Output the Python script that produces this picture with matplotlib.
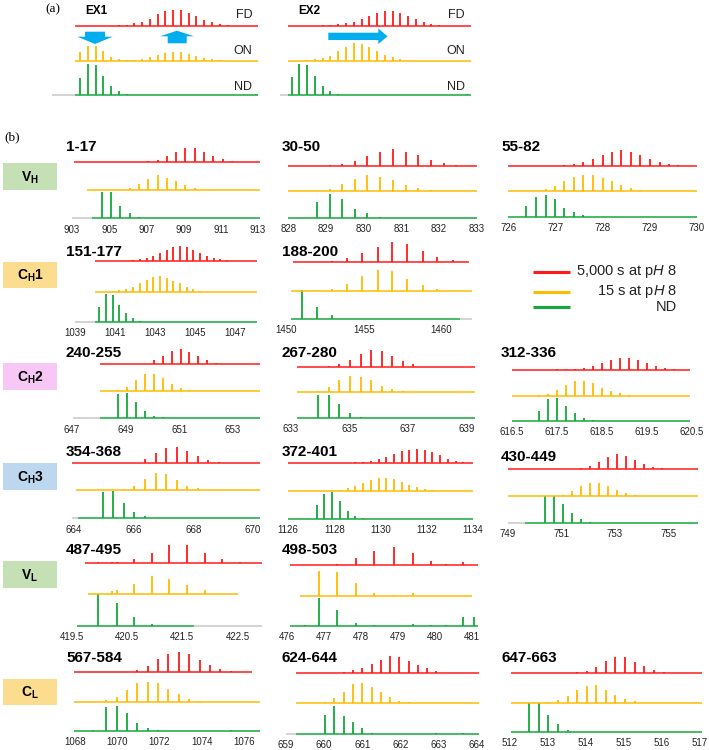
import matplotlib
matplotlib.use("Agg")
import matplotlib.pyplot as plt
from matplotlib.patches import Rectangle, Polygon

plt.rcParams['font.family'] = ['Liberation Sans', 'DejaVu Sans']
plt.rcParams['mathtext.fontset'] = 'custom'
plt.rcParams['mathtext.rm'] = 'Liberation Sans'
plt.rcParams['mathtext.it'] = 'Liberation Sans:italic'
plt.rcParams['mathtext.bf'] = 'Liberation Sans:bold'

RED = '#ff1a1a'
YEL = '#ffbb00'
GRN = '#15a83c'
GRAY = '#c8c8c8'
BLUE = '#00aeef'

# ---------------- panel (a): schematic spectra (isotope index) ----------------
EX1_POS = [0, 1, 2, 3, 4, 5, 6, 7, 8, 9, 10, 11, 12, 13, 14, 15, 16, 17, 18, 19, 22.7]
EX1_RED = [0, 0, 0, 0, 0, 0.02, 0.03, 0.07, 0.11, 0.21, 0.33, 0.43, 0.46, 0.46, 0.38, 0.29, 0.17, 0.1, 0.05, 0.02, 0]
EX1_YEL = [0.24, 0.43, 0.43, 0.27, 0.1, 0.04, 0.03, 0.03, 0.05, 0.1, 0.16, 0.21, 0.24, 0.24, 0.19, 0.14, 0.08, 0.04, 0.02, 0, 0]
EX1_GRN = [0.48, 0.9, 0.88, 0.54, 0.27, 0.11, 0.04, 0, 0, 0, 0, 0, 0, 0, 0, 0, 0, 0, 0, 0, 0.03]
EX1_RANGE = (-0.64, 22.96)
EX1_GRAY = (-3.65, -0.64)

EX2_POS = [0, 1, 2, 3, 4, 5, 6, 7, 8, 9, 10, 11, 12, 13, 14, 15, 16, 17, 18, 19, 22.6]
EX2_RED = [0, 0, 0, 0, 0.01, 0.02, 0.04, 0.07, 0.11, 0.19, 0.29, 0.36, 0.44, 0.44, 0.38, 0.29, 0.19, 0.11, 0.06, 0.02, 0]
EX2_YEL = [0, 0, 0.02, 0.04, 0.08, 0.14, 0.29, 0.4, 0.5, 0.48, 0.4, 0.29, 0.17, 0.1, 0.04, 0, 0, 0, 0, 0, 0]
EX2_GRN = [0.52, 0.9, 0.88, 0.54, 0.27, 0.11, 0.03, 0, 0, 0, 0, 0, 0, 0, 0, 0, 0, 0, 0, 0, 0.02]
EX2_RANGE = (-0.47, 23.1)
EX2_GRAY = (-1.55, -0.47)

# ---------------- panel (b): peptide spectra (m/z) ----------------
VH_A_MZ = [904.6, 905.1, 905.6, 906.1, 906.6, 907.1, 907.6, 908.1, 908.6, 909.1, 909.6, 910.1, 910.6, 911.1, 911.6, 912.1, 912.6]
VH_A_RED = [0, 0, 0, 0, 0, 0.04, 0.1, 0.21, 0.36, 0.5, 0.5, 0.38, 0.24, 0.12, 0.04, 0, 0]
VH_A_YEL = [0, 0, 0.02, 0.08, 0.24, 0.39, 0.54, 0.45, 0.33, 0.18, 0.07, 0.02, 0, 0, 0, 0, 0]
VH_A_GRN = [0.95, 0.95, 0.45, 0.18, 0.04, 0, 0, 0, 0, 0, 0, 0, 0, 0, 0, 0, 0.02]
VH_A_XLIM = (903.11, 913.11)
VH_A_TICKS = [903, 905, 907, 909, 911, 913]
VH_A_SPANS = [(903.1, 913.1), (903.8, 913.1), (904.05, 913.1)]
VH_A_GRAY = (903.0, 904.05)

VH_B_MZ = [828.77, 829.11, 829.43, 829.77, 830.1, 830.44, 830.78, 831.12, 831.44, 831.78, 832.12, 832.45]
VH_B_RED = [0, 0.03, 0.06, 0.18, 0.38, 0.54, 0.64, 0.54, 0.41, 0.22, 0.1, 0.04]
VH_B_YEL = [0.01, 0.1, 0.28, 0.49, 0.64, 0.55, 0.42, 0.23, 0.13, 0.05, 0, 0]
VH_B_GRN = [0.62, 0.92, 0.71, 0.32, 0.19, 0.04, 0, 0, 0, 0, 0, 0]
VH_B_XLIM = (827.94, 833.03)
VH_B_TICKS = [828, 829, 830, 831, 832, 833]
VH_B_SPANS = [(828.0, 833.0), (828.0, 833.0), (828.0, 833.0)]
VH_B_GRAY = None

VH_C_MZ = [726.38, 726.58, 726.79, 726.99, 727.19, 727.39, 727.59, 727.79, 728.0, 728.2, 728.4, 728.6, 728.8, 729.01, 729.21, 729.41, 729.61]
VH_C_RED = [0, 0, 0, 0, 0.03, 0.07, 0.16, 0.29, 0.42, 0.55, 0.62, 0.55, 0.43, 0.29, 0.17, 0.09, 0.04]
VH_C_YEL = [0, 0, 0.07, 0.2, 0.39, 0.55, 0.62, 0.62, 0.53, 0.39, 0.24, 0.11, 0.05, 0.01, 0, 0, 0]
VH_C_GRN = [0.43, 0.79, 0.86, 0.68, 0.36, 0.17, 0.07, 0, 0, 0, 0, 0, 0, 0, 0, 0, 0]
VH_C_XLIM = (725.99, 730.07)
VH_C_TICKS = [726, 727, 728, 729, 730]
VH_C_SPANS = [(726.0, 730.0), (726.0, 730.0), (726.0, 730.0)]
VH_C_GRAY = None

CH1_A_MZ = [1040.2, 1040.55, 1040.89, 1041.22, 1041.55, 1041.89, 1042.25, 1042.59, 1042.92, 1043.25, 1043.59, 1043.92, 1044.25, 1044.59, 1044.92, 1045.26, 1045.6, 1045.94, 1046.27, 1046.61]
CH1_A_RED = [0, 0, 0, 0, 0, 0.02, 0.04, 0.09, 0.14, 0.25, 0.36, 0.46, 0.49, 0.46, 0.36, 0.25, 0.14, 0.09, 0.04, 0.02]
CH1_A_YEL = [0, 0, 0.02, 0.04, 0.09, 0.16, 0.27, 0.38, 0.49, 0.51, 0.46, 0.36, 0.27, 0.16, 0.09, 0.03, 0, 0, 0, 0]
CH1_A_GRN = [0.49, 0.92, 0.87, 0.54, 0.27, 0.13, 0.03, 0, 0, 0, 0, 0, 0, 0, 0, 0, 0, 0, 0, 0]
CH1_A_XLIM = (1038.85, 1048.25)
CH1_A_TICKS = [1039, 1041, 1043, 1045, 1047]
CH1_A_SPANS = [(1040.0, 1048.1), (1040.0, 1048.1), (1040.0, 1048.1)]
CH1_A_GRAY = (1039.0, 1040.0)

CH1_B_MZ = [1451.0, 1452.0, 1452.95, 1453.95, 1454.9, 1455.9, 1456.85, 1457.8, 1458.8, 1459.75, 1460.75]
CH1_B_RED = [0, 0, 0.04, 0.13, 0.3, 0.52, 0.69, 0.61, 0.36, 0.18, 0.06]
CH1_B_YEL = [0, 0, 0.06, 0.24, 0.5, 0.73, 0.7, 0.41, 0.2, 0.06, 0]
CH1_B_GRN = [1.02, 0.41, 0.14, 0, 0, 0, 0, 0, 0, 0, 0]
CH1_B_XLIM = (1450.06, 1462.37)
CH1_B_TICKS = [1450, 1455, 1460]
CH1_B_SPANS = [(1450.43, 1461.8), (1450.32, 1461.97), (1450.32, 1461.2)]
CH1_B_GRAY = (1461.2, 1461.97)

CH2_A_MZ = [648.73, 649.04, 649.39, 649.72, 650.06, 650.38, 650.72, 651.06, 651.38, 651.71, 652.05, 652.37, 652.71]
CH2_A_RED = [0, 0, 0, 0.02, 0.15, 0.31, 0.49, 0.56, 0.47, 0.31, 0.16, 0.06, 0.02]
CH2_A_YEL = [0.04, 0.15, 0.4, 0.63, 0.63, 0.5, 0.25, 0.1, 0.04, 0, 0, 0, 0]
CH2_A_GRN = [0.89, 0.93, 0.62, 0.27, 0.1, 0.04, 0, 0, 0, 0, 0, 0, 0]
CH2_A_XLIM = (647.0, 654.01)
CH2_A_TICKS = [647, 649, 651, 653]
CH2_A_SPANS = [(648.04, 654.0), (648.04, 654.0), (648.04, 654.0)]
CH2_A_GRAY = (647.05, 648.04)

CH2_B_MZ = [633.94, 634.31, 634.66, 635.02, 635.39, 635.74, 636.1, 636.47, 636.83, 637.19]
CH2_B_RED = [0, 0.01, 0.1, 0.25, 0.49, 0.64, 0.62, 0.43, 0.22, 0.09]
CH2_B_YEL = [0.05, 0.2, 0.45, 0.62, 0.6, 0.45, 0.25, 0.1, 0.04, 0]
CH2_B_GRN = [0.9, 0.9, 0.55, 0.2, 0.05, 0, 0, 0, 0, 0]
CH2_B_XLIM = (632.83, 639.4)
CH2_B_TICKS = [633, 635, 637, 639]
CH2_B_SPANS = [(633.2, 639.3), (633.2, 639.3), (633.2, 639.3)]
CH2_B_GRAY = None

CH2_C_MZ = [617.1, 617.29, 617.49, 617.69, 617.9, 618.1, 618.31, 618.5, 618.7, 618.9, 619.1, 619.3, 619.5, 619.7, 619.9, 620.1]
CH2_C_RED = [0, 0.01, 0.02, 0.04, 0.05, 0.07, 0.15, 0.27, 0.4, 0.47, 0.47, 0.4, 0.27, 0.17, 0.09, 0.04]
CH2_C_YEL = [0.02, 0.08, 0.25, 0.45, 0.6, 0.6, 0.5, 0.33, 0.2, 0.1, 0.04, 0, 0, 0, 0, 0]
CH2_C_GRN = [0.4, 0.85, 0.9, 0.6, 0.3, 0.12, 0.04, 0, 0, 0, 0, 0, 0, 0, 0, 0]
CH2_C_XLIM = (616.41, 620.68)
CH2_C_TICKS = [616.5, 617.5, 618.5, 619.5, 620.5]
CH2_C_SPANS = [(616.5, 620.46), (616.5, 620.46), (616.5, 620.46)]
CH2_C_GRAY = None

CH3_A_MZ = [664.96, 665.32, 665.68, 666.02, 666.38, 666.74, 667.09, 667.45, 667.8, 668.15, 668.51, 668.87]
CH3_A_RED = [0, 0, 0, 0.02, 0.15, 0.37, 0.55, 0.59, 0.46, 0.27, 0.12, 0.04]
CH3_A_YEL = [0, 0, 0.04, 0.16, 0.39, 0.61, 0.59, 0.37, 0.16, 0.06, 0.01, 0]
CH3_A_GRN = [0.94, 1.0, 0.57, 0.24, 0.1, 0.02, 0, 0, 0, 0, 0, 0]
CH3_A_XLIM = (663.93, 670.24)
CH3_A_TICKS = [664, 666, 668, 670]
CH3_A_SPANS = [(663.93, 670.24), (664.07, 670.24), (664.13, 670.24)]
CH3_A_GRAY = (663.93, 664.13)

CH3_B_MZ = [1127.24, 1127.57, 1127.92, 1128.25, 1128.58, 1128.92, 1129.26, 1129.59, 1129.92, 1130.25, 1130.59, 1130.92, 1131.26, 1131.59, 1131.92, 1132.25, 1132.59, 1132.92, 1133.26, 1133.59]
CH3_B_RED = [0, 0, 0, 0, 0, 0.02, 0.04, 0.08, 0.14, 0.22, 0.32, 0.42, 0.48, 0.5, 0.46, 0.38, 0.27, 0.16, 0.08, 0.03]
CH3_B_YEL = [0, 0, 0.02, 0.05, 0.1, 0.18, 0.28, 0.38, 0.45, 0.47, 0.42, 0.33, 0.22, 0.13, 0.06, 0.02, 0, 0, 0, 0]
CH3_B_GRN = [0.5, 0.9, 0.95, 0.65, 0.3, 0.12, 0.03, 0, 0, 0, 0, 0, 0, 0, 0, 0, 0, 0, 0, 0]
CH3_B_XLIM = (1125.91, 1134.23)
CH3_B_TICKS = [1126, 1128, 1130, 1132, 1134]
CH3_B_SPANS = [(1126.0, 1134.0), (1126.0, 1134.0), (1126.0, 1134.0)]
CH3_B_GRAY = None

CH3_C_MZ = [750.39, 750.71, 751.05, 751.39, 751.72, 752.07, 752.41, 752.75, 753.08, 753.42, 753.76, 754.09, 754.43, 754.77]
CH3_C_RED = [0, 0, 0, 0, 0.03, 0.1, 0.25, 0.45, 0.55, 0.5, 0.35, 0.2, 0.08, 0.03]
CH3_C_YEL = [0, 0, 0.05, 0.18, 0.38, 0.5, 0.5, 0.38, 0.22, 0.1, 0.03, 0, 0, 0]
CH3_C_GRN = [1.0, 1.0, 0.69, 0.35, 0.15, 0.04, 0, 0, 0, 0, 0, 0, 0, 0]
CH3_C_XLIM = (749.0, 756.19)
CH3_C_TICKS = [749, 751, 753, 755]
CH3_C_SPANS = [(749.0, 756.1), (749.0, 756.1), (749.63, 756.1)]
CH3_C_GRAY = (749.0, 749.63)

VL_A_MZ = [419.98, 420.22, 420.31, 420.63, 420.95, 421.26, 421.58, 421.91, 422.22, 422.54]
VL_A_RED = [0.03, 0.03, 0.03, 0.13, 0.32, 0.55, 0.55, 0.3, 0.11, 0.03]
VL_A_YEL = [0, 0.11, 0.13, 0.32, 0.58, 0.48, 0.27, 0.13, 0, 0]
VL_A_GRN = [1.02, 0, 0.72, 0.27, 0.05, 0, 0, 0, 0, 0]
VL_A_XLIM = (419.54, 422.91)
VL_A_TICKS = [419.5, 420.5, 421.5, 422.5]
VL_A_SPANS = [(419.73, 422.95), (419.79, 422.52), (419.59, 421.71)]
VL_A_GRAY = (421.71, 422.95)

VL_B_MZ = [476.49, 476.85, 477.36, 477.87, 478.35, 478.9, 479.39, 479.9, 480.3, 480.76, 481.05]
VL_B_RED = [0, 0.01, 0.04, 0.22, 0.46, 0.6, 0.38, 0.14, 0.03, 0.09, 0]
VL_B_YEL = [0, 0.82, 0.78, 0.43, 0.11, 0.02, 0.09, 0, 0, 0, 0]
VL_B_GRN = [0.02, 0.92, 0.52, 0.09, 0.03, 0, 0.05, 0.03, 0.03, 0.3, 0.3]
VL_B_XLIM = (475.97, 481.16)
VL_B_TICKS = [476, 477, 478, 479, 480, 481]
VL_B_SPANS = [(476.09, 481.17), (476.35, 480.99), (476.09, 481.17)]
VL_B_GRAY = None

CL_A_MZ = [1068.84, 1069.47, 1069.97, 1070.45, 1070.95, 1071.44, 1071.93, 1072.42, 1072.93, 1073.42, 1073.91, 1074.4, 1074.89, 1075.38]
CL_A_RED = [0, 0, 0, 0.02, 0.09, 0.23, 0.45, 0.63, 0.68, 0.63, 0.43, 0.25, 0.11, 0.03]
CL_A_YEL = [0, 0.06, 0.17, 0.4, 0.63, 0.68, 0.63, 0.43, 0.25, 0.09, 0.02, 0, 0, 0]
CL_A_GRN = [0.02, 0.8, 0.85, 0.59, 0.28, 0.09, 0.02, 0, 0, 0, 0, 0, 0, 0.02]
CL_A_XLIM = (1067.85, 1076.77)
CL_A_TICKS = [1068, 1070, 1072, 1074, 1076]
CL_A_SPANS = [(1067.95, 1076.4), (1067.95, 1076.77), (1067.95, 1076.77)]
CL_A_GRAY = None

CL_B_MZ = [660.02, 660.27, 660.51, 660.75, 661.0, 661.24, 661.48, 661.72, 661.97, 662.21, 662.45, 662.7, 662.93, 663.18, 663.64]
CL_B_RED = [0, 0.02, 0.05, 0.11, 0.19, 0.31, 0.44, 0.57, 0.55, 0.42, 0.27, 0.16, 0.07, 0.02, 0]
CL_B_YEL = [0.03, 0.16, 0.38, 0.64, 0.66, 0.55, 0.36, 0.2, 0.09, 0.03, 0, 0, 0, 0, 0]
CL_B_GRN = [0.64, 0.93, 0.6, 0.38, 0.19, 0.03, 0, 0, 0, 0, 0, 0, 0.02, 0, 0.03]
CL_B_XLIM = (659.15, 664.03)
CL_B_TICKS = [659, 660, 661, 662, 663, 664]
CL_B_SPANS = [(659.25, 664.06), (659.25, 664.06), (659.25, 664.06)]
CL_B_GRAY = (659.0, 659.25)

CL_C_MZ = [512.51, 512.76, 513.01, 513.26, 513.52, 513.77, 514.02, 514.27, 514.52, 514.77, 515.03, 515.28, 515.53, 515.79, 516.04]
CL_C_RED = [0, 0, 0, 0, 0, 0.03, 0.09, 0.23, 0.43, 0.55, 0.55, 0.4, 0.25, 0.11, 0.03]
CL_C_YEL = [0, 0, 0.02, 0.08, 0.23, 0.43, 0.57, 0.59, 0.45, 0.28, 0.11, 0.05, 0, 0, 0]
CL_C_GRN = [0.97, 1.0, 0.57, 0.25, 0.06, 0, 0, 0, 0, 0, 0, 0, 0, 0, 0]
CL_C_XLIM = (511.95, 517.0)
CL_C_TICKS = [512, 513, 514, 515, 516, 517]
CL_C_SPANS = [(512.02, 517.04), (512.02, 517.04), (512.02, 517.04)]
CL_C_GRAY = None

DOMAINS = ['V_H', 'C_H1', 'C_H2', 'C_H3', 'V_L', 'C_L']
DOMAIN_COLORS = ['#c5e0b4', '#fcdc8f', '#f7c8f5', '#bdd7ee', '#c5e0b4', '#fcdc8f']
LEGEND_LABELS = ['5,000 s at p$\\mathit{H}$ 8', '15 s at p$\\mathit{H}$ 8', 'ND']

W, H = 709, 750
fig = plt.figure(figsize=(W / 100, H / 100), dpi=100)

# overlay in pixel coordinates for labels, boxes, arrows
ov = fig.add_axes([0, 0, 1, 1], zorder=0)
ov.set_xlim(0, W)
ov.set_ylim(H, 0)
ov.axis('off')


def px_axes(left, right, top, bottom):
    ax = fig.add_axes([left / W, 1 - bottom / H, (right - left) / W, (bottom - top) / H], zorder=2)
    ax.patch.set_alpha(0)
    for s in ax.spines.values():
        s.set_visible(False)
    return ax


def draw_stack(ax, mz, traces, spans, gray, ys):
    """traces = (red, yellow, green) heights; ys = (red_y, yel_y, grn_y) in px"""
    red_y, yel_y, grn_y = ys
    ax.set_ylim(0, grn_y - red_y)
    sp = (grn_y - red_y) / 2
    bases = [grn_y - red_y, grn_y - yel_y, 0]
    if gray is not None:
        ax.hlines(0, gray[0], gray[1], color=GRAY, lw=1.1, clip_on=False)
    for k in (2, 1, 0):
        col = [RED, YEL, GRN][k]
        ax.hlines(bases[k], spans[k][0], spans[k][1], color=col, lw=1.1, clip_on=False)
        xs = [m for m, h in zip(mz, traces[k]) if h > 0]
        hs = [bases[k] + h * sp for h in traces[k] if h > 0]
        ax.vlines(xs, bases[k], hs, color=col, lw=1.3, clip_on=False)


# ---- panel (a)
ov.text(53, 9, '(a)', family='Liberation Serif', fontsize=9.5, ha='center', va='center')
for name, pos, red, yel, grn, rng, gr, xl in [
        ('EX1', EX1_POS, EX1_RED, EX1_YEL, EX1_GRN, EX1_RANGE, EX1_GRAY, (75, 258.3)),
        ('EX2', EX2_POS, EX2_RED, EX2_YEL, EX2_GRN, EX2_RANGE, EX2_GRAY, (288, 471))]:
    ax = px_axes(xl[0], xl[1], 25.8, 95)
    ax.set_xlim(rng)
    draw_stack(ax, pos, (red, yel, grn), [rng, rng, rng], gr, (25.8, 60.7, 95))
    ax.set_xticks([])
    ax.set_yticks([])
    ov.text(xl[0] + 10, 11, name, fontsize=8.5, fontweight='bold', ha='left', va='center')
    for lab, yy in zip(['FD', 'ON', 'ND'], [15, 51, 87]):
        ov.text(xl[1] - 6, yy, lab, fontsize=9, ha='right', va='center', color='#222222')

arrow_kw = dict(closed=True, fc=BLUE, ec='none', zorder=3)
ov.add_patch(Polygon([(85, 31.7), (105, 31.7), (105, 36.7), (112.7, 36.7), (95, 44),
                      (77.3, 36.7), (85, 36.7)], **arrow_kw))
ov.add_patch(Polygon([(177, 30.7), (194, 36.3), (186.7, 36.3), (186.7, 43.3), (167.7, 43.3),
                      (167.7, 36.3), (160, 36.3)], **arrow_kw))
ov.add_patch(Polygon([(328.3, 32.7), (378.3, 32.7), (378.3, 28.5), (387.5, 36.3), (378.3, 44),
                      (378.3, 40), (328.3, 40)], **arrow_kw))

# ---- panel (b)
ov.text(12, 137, '(b)', family='Liberation Serif', fontsize=9.5, ha='center', va='center')

COLS = [(72, 260), (286, 478), (508, 700)]
TITLE_X = [66, 282, 501]
PANELS = [
    ('1-17', 0, VH_A_MZ, (VH_A_RED, VH_A_YEL, VH_A_GRN), VH_A_XLIM, VH_A_TICKS, VH_A_SPANS, VH_A_GRAY, (162.3, 190.3, 218.3), 147),
    ('30-50', 1, VH_B_MZ, (VH_B_RED, VH_B_YEL, VH_B_GRN), VH_B_XLIM, VH_B_TICKS, VH_B_SPANS, VH_B_GRAY, (166, 191.3, 217.7), 147),
    ('55-82', 2, VH_C_MZ, (VH_C_RED, VH_C_YEL, VH_C_GRN), VH_C_XLIM, VH_C_TICKS, VH_C_SPANS, VH_C_GRAY, (166, 191, 216.7), 147),
    ('151-177', 0, CH1_A_MZ, (CH1_A_RED, CH1_A_YEL, CH1_A_GRN), CH1_A_XLIM, CH1_A_TICKS, CH1_A_SPANS, CH1_A_GRAY, (260.7, 291.7, 321.7), 252),
    ('188-200', 1, CH1_B_MZ, (CH1_B_RED, CH1_B_YEL, CH1_B_GRN), CH1_B_XLIM, CH1_B_TICKS, CH1_B_SPANS, CH1_B_GRAY, (261.7, 290.7, 319), 252),
    ('240-255', 0, CH2_A_MZ, (CH2_A_RED, CH2_A_YEL, CH2_A_GRN), CH2_A_XLIM, CH2_A_TICKS, CH2_A_SPANS, CH2_A_GRAY, (364.3, 391, 418.3), 353),
    ('267-280', 1, CH2_B_MZ, (CH2_B_RED, CH2_B_YEL, CH2_B_GRN), CH2_B_XLIM, CH2_B_TICKS, CH2_B_SPANS, CH2_B_GRAY, (366.7, 392, 418), 353),
    ('312-336', 2, CH2_C_MZ, (CH2_C_RED, CH2_C_YEL, CH2_C_GRN), CH2_C_XLIM, CH2_C_TICKS, CH2_C_SPANS, CH2_C_GRAY, (370, 396, 421), 353),
    ('354-368', 0, CH3_A_MZ, (CH3_A_RED, CH3_A_YEL, CH3_A_GRN), CH3_A_XLIM, CH3_A_TICKS, CH3_A_SPANS, CH3_A_GRAY, (463.3, 490, 518.3), 452),
    ('372-401', 1, CH3_B_MZ, (CH3_B_RED, CH3_B_YEL, CH3_B_GRN), CH3_B_XLIM, CH3_B_TICKS, CH3_B_SPANS, CH3_B_GRAY, (463, 491, 519), 452),
    ('430-449', 2, CH3_C_MZ, (CH3_C_RED, CH3_C_YEL, CH3_C_GRN), CH3_C_XLIM, CH3_C_TICKS, CH3_C_SPANS, CH3_C_GRAY, (469, 496, 522.7), 457),
    ('487-495', 0, VL_A_MZ, (VL_A_RED, VL_A_YEL, VL_A_GRN), VL_A_XLIM, VL_A_TICKS, VL_A_SPANS, VL_A_GRAY, (562.7, 594, 626), 550),
    ('498-503', 1, VL_B_MZ, (VL_B_RED, VL_B_YEL, VL_B_GRN), VL_B_XLIM, VL_B_TICKS, VL_B_SPANS, VL_B_GRAY, (565, 596, 626), 550),
    ('567-584', 0, CL_A_MZ, (CL_A_RED, CL_A_YEL, CL_A_GRN), CL_A_XLIM, CL_A_TICKS, CL_A_SPANS, CL_A_GRAY, (672.3, 701.7, 730.7), 658),
    ('624-644', 1, CL_B_MZ, (CL_B_RED, CL_B_YEL, CL_B_GRN), CL_B_XLIM, CL_B_TICKS, CL_B_SPANS, CL_B_GRAY, (673.3, 703.3, 734), 658),
    ('647-663', 2, CL_C_MZ, (CL_C_RED, CL_C_YEL, CL_C_GRN), CL_C_XLIM, CL_C_TICKS, CL_C_SPANS, CL_C_GRAY, (673.3, 702.7, 731.7), 658),
]

for title, c, mz, traces, xlim, ticks, spans, gray, ys, ty in PANELS:
    ax = px_axes(COLS[c][0], COLS[c][1], ys[0], ys[2])
    ax.set_xlim(xlim)
    draw_stack(ax, mz, traces, spans, gray, ys)
    ax.set_xticks(ticks, [f'{t:g}' for t in ticks])
    ax.set_yticks([])
    ax.tick_params(axis='x', length=0, pad=4.5, labelsize=7, labelcolor='#222222')
    ov.text(TITLE_X[c], ty, title, fontsize=11, fontweight='bold', ha='left', va='center')

# domain boxes
BOX_Y = [(163.3, 190), (261.7, 288.3), (363.3, 390), (463.3, 490), (560.7, 588.3), (679.3, 705)]
for lab, fc, (y0, y1) in zip(DOMAINS, DOMAIN_COLORS, BOX_Y):
    ov.add_patch(Rectangle((3.3, y0), 53.4, y1 - y0, fc=fc, ec='none'))
    ov.text(30, (y0 + y1) / 2 + 1, '$\\mathbf{' + lab + '}$', fontsize=10, ha='center', va='center')

# legend
for lab, col, yy in zip(LEGEND_LABELS, [RED, YEL, GRN], [271.7, 291.7, 307.3]):
    ov.plot([533, 570], [yy, yy], color=col, lw=2.2, solid_capstyle='butt')
    ov.text(677, yy, lab, fontsize=10.5, ha='right', va='center', color='#222222')

fig.savefig('out.png', dpi=100)
